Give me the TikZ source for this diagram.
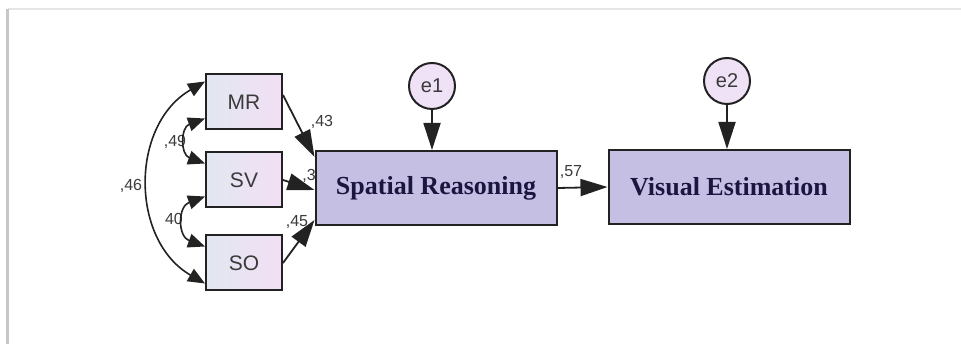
\documentclass[tikz,border=0pt]{standalone}
\usepackage{fontspec}
\setmainfont{Liberation Sans}
\newfontfamily\timesbf{Liberation Serif}
\usetikzlibrary{arrows.meta}
\definecolor{obsleft}{HTML}{E2E7F1}
\definecolor{obsright}{HTML}{F2DFF5}
\definecolor{latfill}{HTML}{C6BFE4}
\definecolor{errfill}{HTML}{EFE2F6}
\definecolor{edgegray}{HTML}{222222}
\definecolor{labgray}{HTML}{3A3A3A}
\definecolor{lattext}{HTML}{1A1640}
\tikzset{
    obs/.style={draw=edgegray, line width=2pt, left color=obsleft, right color=obsright,
        minimum width=76pt, minimum height=55pt, text=labgray, font=\fontsize{21}{21}\selectfont}, % observed variables
    lat/.style={draw=edgegray, line width=2pt, fill=latfill, minimum width=241pt, minimum height=74pt,
        text=lattext, font=\fontsize{26}{26}\selectfont\timesbf\bfseries}, % endogenous boxes
    err/.style={circle, draw=edgegray, line width=2pt, fill=errfill, minimum size=46pt, inner sep=0pt,
        text=labgray, font=\fontsize{20}{20}\selectfont}, % error terms
    path/.style={-{Triangle[length=27pt, width=17pt]}, line width=1.8pt, draw=edgegray}, % regression paths
    cov/.style={{Triangle[length=17pt, width=14pt]}-{Triangle[length=17pt, width=14pt]}, line width=1.6pt, draw=edgegray}, % covariances
    lab/.style={text=labgray, inner sep=0pt, font=\fontsize{16}{16}\selectfont} % estimates
}
\begin{document}
\begin{tikzpicture}[x=1pt, y=1pt]
    \useasboundingbox (0,0) rectangle (961,-344);
    \draw[black!10, line width=2.5pt] (8,-9) -- (961,-9);
    \draw[black!22, line width=3pt] (7,-9) -- (7,-344);

    \node[obs] (mr) at (244,-102) {MR};
    \node[obs] (sv) at (244,-180) {SV};
    \node[obs] (so) at (244,-263) {SO};
    \node[lat] (sr) at (436,-188) {Spatial Reasoning};
    \node[lat] (ve) at (729,-187) {Visual Estimation};
    \node[err] (e1) at (432,-86) {e1};
    \node[err] (e2) at (727,-81) {e2};

    \node[lab] (l46) at (131,-186) {,46};
    \node[lab] (l49) at (175,-142) {,49};
    \node[lab] (l40) at (174,-219) {40};
    \node[lab] (l43) at (322,-122) {,43};
    \node[lab] (l3)  at (309,-176) {,3};
    \node[lab] (l45) at (297,-222) {,45};
    \node[lab] (l57) at (571,-172) {,57};

    \draw[cov] ([yshift=12]mr.south west) to[out=200, in=160, looseness=1.5] ([yshift=-12]sv.north west);
    \draw[cov] ([yshift=12]sv.south west) to[out=200, in=160, looseness=1.5] ([yshift=-12]so.north west);
    \draw[cov] ([yshift=-8]mr.north west) to[out=210, in=150, looseness=1.1] ([yshift=8]so.south west);

    \draw[path] ([yshift=7]mr.east) -- ([yshift=-7]sr.north west);
    \draw[path] (sv.east) -- ([yshift=-2]sr.west);
    \draw[path] (so.east) -- ([yshift=6]sr.south west);
    \draw[path] (e1.south) -- (e1.south |- sr.north);
    \draw[path] (e2.south) -- (e2.south |- ve.north);
    \draw[path] (sr.east) -- (ve.west);
\end{tikzpicture}
\end{document}
